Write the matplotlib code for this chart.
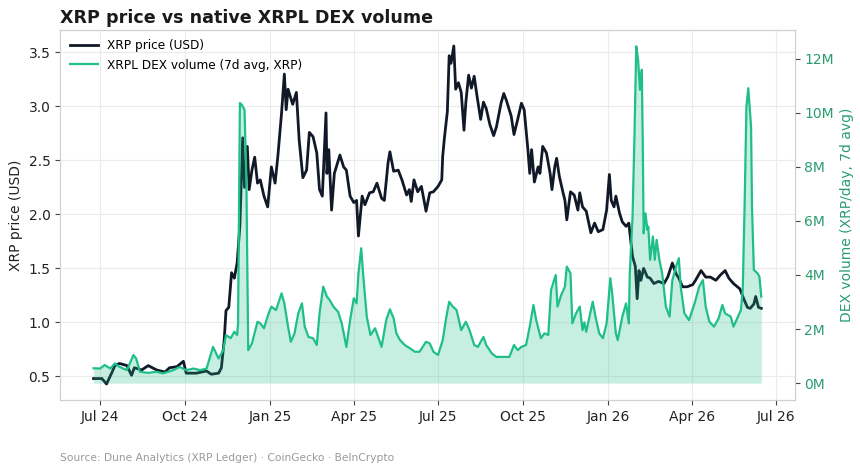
import pandas as pd
import matplotlib
matplotlib.use("Agg")
import matplotlib.pyplot as plt
import matplotlib.dates as mdates
from matplotlib.ticker import FuncFormatter

# XRP price (USD)
price_dates = [
    "2024-06-24", "2024-07-03", "2024-07-08", "2024-07-14", "2024-07-17", "2024-07-22",
    "2024-07-30", "2024-08-04", "2024-08-07", "2024-08-15", "2024-08-22", "2024-08-31",
    "2024-09-09", "2024-09-14", "2024-09-22", "2024-09-29", "2024-10-02", "2024-10-13",
    "2024-10-24", "2024-10-29", "2024-11-06", "2024-11-09", "2024-11-12", "2024-11-14",
    "2024-11-17", "2024-11-20", "2024-11-23", "2024-11-26", "2024-11-29", "2024-12-02",
    "2024-12-04", "2024-12-07", "2024-12-09", "2024-12-12", "2024-12-15", "2024-12-18",
    "2024-12-21", "2024-12-25", "2024-12-29", "2025-01-02", "2025-01-06", "2025-01-09",
    "2025-01-13", "2025-01-16", "2025-01-18", "2025-01-20", "2025-01-25", "2025-01-29",
    "2025-02-01", "2025-02-05", "2025-02-09", "2025-02-12", "2025-02-16", "2025-02-20",
    "2025-02-23", "2025-02-26", "2025-03-02", "2025-03-03", "2025-03-05", "2025-03-08",
    "2025-03-11", "2025-03-17", "2025-03-21", "2025-03-24", "2025-03-28", "2025-04-01",
    "2025-04-04", "2025-04-06", "2025-04-10", "2025-04-13", "2025-04-18", "2025-04-22",
    "2025-04-26", "2025-05-01", "2025-05-04", "2025-05-08", "2025-05-10", "2025-05-14",
    "2025-05-19", "2025-05-23", "2025-05-28", "2025-05-31", "2025-06-02", "2025-06-05",
    "2025-06-09", "2025-06-13", "2025-06-15", "2025-06-18", "2025-06-22", "2025-06-26",
    "2025-07-01", "2025-07-05", "2025-07-06", "2025-07-08", "2025-07-11", "2025-07-13",
    "2025-07-15", "2025-07-18", "2025-07-20", "2025-07-23", "2025-07-26", "2025-07-29",
    "2025-07-31", "2025-08-03", "2025-08-06", "2025-08-09", "2025-08-12", "2025-08-16",
    "2025-08-19", "2025-08-22", "2025-08-26", "2025-08-30", "2025-09-02", "2025-09-07",
    "2025-09-10", "2025-09-13", "2025-09-18", "2025-09-21", "2025-09-25", "2025-09-29",
    "2025-10-02", "2025-10-06", "2025-10-08", "2025-10-10", "2025-10-13", "2025-10-17",
    "2025-10-19", "2025-10-22", "2025-10-26", "2025-10-30", "2025-11-01", "2025-11-04",
    "2025-11-06", "2025-11-09", "2025-11-13", "2025-11-15", "2025-11-17", "2025-11-21",
    "2025-11-25", "2025-11-29", "2025-12-01", "2025-12-04", "2025-12-08", "2025-12-10",
    "2025-12-13", "2025-12-17", "2025-12-21", "2025-12-26", "2025-12-30", "2026-01-02",
    "2026-01-04", "2026-01-07", "2026-01-09", "2026-01-13", "2026-01-16", "2026-01-20",
    "2026-01-23", "2026-01-25", "2026-01-27", "2026-01-30", "2026-02-01", "2026-02-03",
    "2026-02-05", "2026-02-08", "2026-02-12", "2026-02-15", "2026-02-19", "2026-02-24",
    "2026-03-02", "2026-03-06", "2026-03-11", "2026-03-15", "2026-03-18", "2026-03-22",
    "2026-03-27", "2026-04-02", "2026-04-05", "2026-04-11", "2026-04-16", "2026-04-21",
    "2026-04-27", "2026-05-02", "2026-05-07", "2026-05-11", "2026-05-16", "2026-05-23",
    "2026-05-27", "2026-05-31", "2026-06-03", "2026-06-07", "2026-06-09", "2026-06-12",
    "2026-06-15",
]
price_usd = [
    0.48, 0.48, 0.43, 0.54, 0.60, 0.62,
    0.60, 0.51, 0.58, 0.56, 0.60, 0.56,
    0.54, 0.58, 0.59, 0.64, 0.53, 0.53,
    0.55, 0.52, 0.53, 0.58, 0.83, 1.11,
    1.14, 1.46, 1.41, 1.55, 1.90, 2.71,
    2.25, 2.63, 2.23, 2.41, 2.53, 2.29,
    2.32, 2.17, 2.07, 2.44, 2.29, 2.54,
    2.94, 3.30, 2.97, 3.16, 3.02, 3.13,
    2.69, 2.34, 2.41, 2.76, 2.72, 2.57,
    2.23, 2.17, 2.94, 2.38, 2.60, 2.04,
    2.38, 2.55, 2.44, 2.41, 2.17, 2.11,
    2.13, 1.80, 2.17, 2.09, 2.20, 2.21,
    2.29, 2.15, 2.13, 2.48, 2.58, 2.40,
    2.41, 2.32, 2.18, 2.23, 2.12, 2.32,
    2.21, 2.26, 2.17, 2.03, 2.20, 2.21,
    2.26, 2.32, 2.54, 2.72, 2.95, 3.47,
    3.40, 3.56, 3.16, 3.22, 3.13, 2.78,
    3.04, 3.29, 3.17, 3.28, 3.10, 2.88,
    3.04, 2.98, 2.83, 2.73, 2.81, 3.03,
    3.12, 3.05, 2.91, 2.74, 2.88, 3.03,
    2.97, 2.60, 2.38, 2.60, 2.30, 2.44,
    2.38, 2.63, 2.57, 2.38, 2.23, 2.44,
    2.52, 2.35, 2.20, 2.13, 1.95, 2.21,
    2.18, 2.04, 2.20, 2.07, 2.03, 1.95,
    1.83, 1.92, 1.84, 1.86, 2.04, 2.37,
    2.13, 2.07, 2.17, 2.01, 1.93, 1.89,
    1.92, 1.76, 1.61, 1.52, 1.22, 1.48,
    1.39, 1.50, 1.42, 1.41, 1.36, 1.38,
    1.36, 1.42, 1.55, 1.45, 1.41, 1.33,
    1.33, 1.35, 1.39, 1.48, 1.42, 1.42,
    1.39, 1.44, 1.48, 1.41, 1.36, 1.31,
    1.22, 1.14, 1.13, 1.17, 1.24, 1.14,
    1.13,
]

# XRPL DEX volume, 7d average (millions of XRP per day)
vol_dates = [
    "2024-06-24", "2024-07-01", "2024-07-06", "2024-07-12", "2024-07-17", "2024-07-22",
    "2024-07-30", "2024-08-06", "2024-08-09", "2024-08-13", "2024-08-22", "2024-08-31",
    "2024-09-07", "2024-09-18", "2024-09-25", "2024-10-02", "2024-10-10", "2024-10-17",
    "2024-10-24", "2024-10-31", "2024-11-06", "2024-11-11", "2024-11-14", "2024-11-19",
    "2024-11-23", "2024-11-26", "2024-11-27", "2024-11-29", "2024-12-01", "2024-12-04",
    "2024-12-06", "2024-12-08", "2024-12-12", "2024-12-18", "2024-12-21", "2024-12-25",
    "2024-12-30", "2025-01-02", "2025-01-07", "2025-01-13", "2025-01-16", "2025-01-20",
    "2025-01-23", "2025-01-27", "2025-01-31", "2025-02-04", "2025-02-07", "2025-02-11",
    "2025-02-16", "2025-02-20", "2025-02-23", "2025-02-27", "2025-03-03", "2025-03-06",
    "2025-03-10", "2025-03-15", "2025-03-19", "2025-03-24", "2025-03-28", "2025-04-01",
    "2025-04-04", "2025-04-06", "2025-04-09", "2025-04-11", "2025-04-15", "2025-04-19",
    "2025-04-24", "2025-05-01", "2025-05-06", "2025-05-10", "2025-05-14", "2025-05-17",
    "2025-05-21", "2025-05-26", "2025-06-01", "2025-06-06", "2025-06-11", "2025-06-18",
    "2025-06-22", "2025-06-26", "2025-07-01", "2025-07-06", "2025-07-10", "2025-07-13",
    "2025-07-17", "2025-07-21", "2025-07-26", "2025-07-31", "2025-08-04", "2025-08-09",
    "2025-08-13", "2025-08-19", "2025-08-22", "2025-08-28", "2025-09-02", "2025-09-09",
    "2025-09-16", "2025-09-21", "2025-09-25", "2025-09-29", "2025-10-04", "2025-10-08",
    "2025-10-12", "2025-10-15", "2025-10-20", "2025-10-24", "2025-10-28", "2025-10-31",
    "2025-11-05", "2025-11-07", "2025-11-11", "2025-11-15", "2025-11-17", "2025-11-21",
    "2025-11-23", "2025-11-27", "2025-12-01", "2025-12-04", "2025-12-06", "2025-12-08",
    "2025-12-15", "2025-12-18", "2025-12-22", "2025-12-26", "2025-12-30", "2026-01-03",
    "2026-01-05", "2026-01-09", "2026-01-11", "2026-01-16", "2026-01-20", "2026-01-23",
    "2026-01-24", "2026-01-27", "2026-01-29", "2026-01-31", "2026-02-02", "2026-02-04",
    "2026-02-06", "2026-02-07", "2026-02-08", "2026-02-10", "2026-02-12", "2026-02-13",
    "2026-02-15", "2026-02-18", "2026-02-20", "2026-02-22", "2026-02-25", "2026-02-28",
    "2026-03-04", "2026-03-08", "2026-03-11", "2026-03-15", "2026-03-18", "2026-03-20",
    "2026-03-24", "2026-03-29", "2026-04-04", "2026-04-09", "2026-04-13", "2026-04-16",
    "2026-04-20", "2026-04-25", "2026-04-30", "2026-05-04", "2026-05-07", "2026-05-13",
    "2026-05-16", "2026-05-20", "2026-05-24", "2026-05-26", "2026-05-28", "2026-05-30",
    "2026-06-01", "2026-06-04", "2026-06-05", "2026-06-07", "2026-06-11", "2026-06-13",
    "2026-06-15",
]
vol_m = [
    0.55, 0.54, 0.67, 0.54, 0.73, 0.60,
    0.48, 1.04, 0.91, 0.42, 0.38, 0.42,
    0.36, 0.48, 0.60, 0.48, 0.54, 0.48,
    0.54, 1.34, 0.91, 1.22, 1.78, 1.66,
    1.90, 1.78, 2.21, 10.36, 10.30, 10.11,
    7.50, 1.22, 1.47, 2.27, 2.21, 2.03,
    2.58, 2.83, 2.70, 3.32, 2.95, 2.09,
    1.53, 1.84, 2.58, 2.95, 2.09, 1.71,
    1.66, 1.41, 2.58, 3.57, 3.20, 3.07,
    2.83, 2.64, 2.21, 1.34, 2.33, 3.14,
    2.95, 4.06, 4.99, 4.06, 2.46, 1.78,
    2.03, 1.34, 2.33, 2.73, 2.40, 1.84,
    1.59, 1.41, 1.28, 1.16, 1.16, 1.53,
    1.47, 1.16, 1.04, 1.59, 2.46, 3.01,
    2.83, 2.70, 1.96, 2.27, 1.96, 1.41,
    1.34, 1.71, 1.41, 1.10, 0.97, 0.97,
    0.97, 1.41, 1.22, 1.34, 1.41, 2.09,
    2.89, 2.33, 1.66, 1.84, 1.78, 3.44,
    4.00, 2.83, 3.26, 3.57, 4.31, 4.06,
    2.21, 2.58, 2.83, 1.96, 2.25, 1.90,
    3.01, 2.46, 1.84, 1.66, 2.21, 3.88,
    3.32, 1.84, 1.59, 2.46, 2.95, 2.21,
    4.06, 6.16, 9.00, 12.46, 11.96, 10.85,
    11.59, 9.00, 5.54, 6.28, 5.67, 5.79,
    4.56, 5.42, 4.56, 5.30, 4.56, 4.06,
    2.83, 2.46, 3.81, 4.31, 4.62, 3.57,
    2.58, 2.33, 2.95, 3.57, 3.81, 2.83,
    2.27, 2.09, 2.40, 2.89, 2.58, 2.46,
    2.09, 2.40, 2.70, 3.44, 6.53, 10.23,
    10.91, 9.49, 6.53, 4.19, 4.06, 3.94,
    3.20,
]

price_color = "#111827"
vol_color = "#1fbf8a"
label_green = "#2a9d6f"

price_x = pd.to_datetime(price_dates)
vol_x = pd.to_datetime(vol_dates)

fig = plt.figure(figsize=(8.6, 4.73), dpi=100)
ax = fig.add_axes([0.07, 0.154, 0.854, 0.783])
ax2 = ax.twinx()

ax.plot(price_x, price_usd, color=price_color, lw=2.0, label="XRP price (USD)")
ax2.fill_between(vol_x, vol_m, 0, color=vol_color, alpha=0.25, lw=0)
ax2.plot(vol_x, vol_m, color=vol_color, lw=1.6, label="XRPL DEX volume (7d avg, XRP)")

ax.set_ylim(0.28, 3.71)
ax2.set_ylim(-0.63, 13.07)
ax.set_yticks([0.5, 1.0, 1.5, 2.0, 2.5, 3.0, 3.5])
ax2.set_yticks([0, 2, 4, 6, 8, 10, 12])
ax2.yaxis.set_major_formatter(FuncFormatter(lambda v, _: f"{v:.0f}M"))

ax.xaxis.set_major_locator(mdates.MonthLocator(bymonth=[1, 4, 7, 10]))
ax.xaxis.set_major_formatter(mdates.DateFormatter("%b %y"))

ax.grid(True, color="#ebebeb", lw=0.8)
ax.set_axisbelow(True)
for a in (ax, ax2):
    for s in a.spines.values():
        s.set_color("#d0d0d0")
ax.tick_params(axis="both", labelsize=10, colors="#222222", length=3.5)
ax.tick_params(axis="both", color="#444444")
ax2.tick_params(axis="y", labelsize=10, labelcolor=label_green, color="#444444", length=3.5)

ax.set_ylabel("XRP price (USD)", fontsize=10, color="#222222")
ax2.set_ylabel("DEX volume (XRP/day, 7d avg)", fontsize=10, color=label_green)

h1, l1 = ax.get_legend_handles_labels()
h2, l2 = ax2.get_legend_handles_labels()
ax2.legend(h1 + h2, l1 + l2, loc="upper left", frameon=False, fontsize=8.7,
           borderaxespad=0.4, handlelength=2.3)

fig.text(0.07, 0.963, "XRP price vs native XRPL DEX volume", fontsize=12.6,
         fontweight="bold", color="#1a1a1a", ha="left", va="center")
fig.text(0.07, 0.032, "Source: Dune Analytics (XRP Ledger) \u00b7 CoinGecko \u00b7 BeInCrypto",
         fontsize=7.7, color="#999999", ha="left", va="center")

fig.savefig("out.png", dpi=100)
